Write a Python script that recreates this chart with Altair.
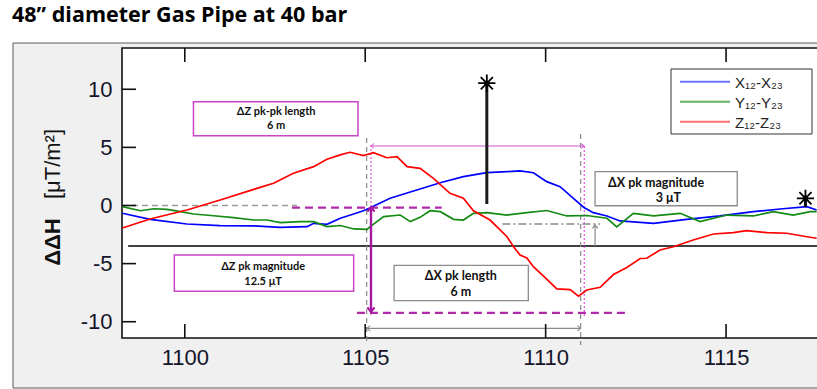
import altair as alt
import pandas as pd

TITLE = "48\u201d diameter Gas Pipe at 40 bar"
SERIES = ["X\u2081\u2082-X\u2082\u2083", "Y\u2081\u2082-Y\u2082\u2083", "Z\u2081\u2082-Z\u2082\u2083"]
COLORS = ["#0000ff", "#138a13", "#ff0000"]
LEGEND_COLORS = ["#7070ff", "#62b062", "#ff7070"]
X_TICKS = [1100, 1105, 1110, 1115]
Y_TICKS = [-10, -5, 0, 5, 10]

blue_x = [1098.27, 1099.04, 1100.06, 1100.98, 1101.91, 1102.65, 1103.39, 1103.57, 1103.94, 1104.31,
          1104.68, 1104.95, 1105.14, 1105.69, 1106.34, 1107.08, 1107.72, 1108.37, 1108.93, 1109.29,
          1109.66, 1110.03, 1110.40, 1110.77, 1111.05, 1111.32, 1111.70, 1112.06, 1112.99, 1113.91,
          1114.83, 1115.76, 1116.50, 1117.24, 1117.51]
blue_y = [-0.67, -1.20, -1.59, -1.74, -1.76, -1.88, -1.82, -1.53, -1.62, -1.10,
          -0.73, -0.45, -0.20, 0.62, 1.25, 1.96, 2.48, 2.82, 2.91, 2.97,
          2.82, 2.05, 1.62, 0.62, -0.15, -0.62, -0.90, -1.33, -1.53, -1.19,
          -0.90, -0.53, -0.30, -0.10, -0.39]

green_x = [1098.27, 1098.77, 1099.14, 1099.51, 1099.88, 1100.24, 1100.80, 1101.35, 1101.91, 1102.28,
           1102.65, 1103.20, 1103.57, 1103.94, 1104.31, 1104.68, 1105.05, 1105.14, 1105.51, 1105.97,
           1106.25, 1106.52, 1106.80, 1107.08, 1107.45, 1107.72, 1108.00, 1108.37, 1108.93, 1109.48,
           1110.03, 1110.59, 1111.14, 1111.70, 1111.97, 1112.43, 1112.99, 1113.73, 1114.28, 1115.02,
           1115.76, 1116.31, 1116.86, 1117.33, 1117.51]
green_y = [-0.10, -0.45, -0.28, -0.33, -0.53, -0.73, -0.88, -1.05, -1.25, -1.25,
           -1.48, -1.39, -1.39, -1.82, -1.72, -2.02, -2.05, -1.82, -0.96, -0.82,
           -1.39, -1.02, -0.45, -0.53, -1.19, -1.25, -0.67, -0.62, -0.82, -0.62,
           -0.43, -0.90, -0.86, -1.10, -1.85, -0.67, -0.90, -0.67, -1.39, -0.82,
           -0.90, -0.53, -0.82, -0.53, -0.53]

red_x = [1098.27, 1099.04, 1099.69, 1100.06, 1100.98, 1101.91, 1102.46, 1103.01, 1103.57, 1103.94,
         1104.31, 1104.58, 1104.95, 1105.23, 1105.60, 1105.88, 1106.16, 1106.52, 1106.89, 1107.35,
         1107.72, 1108.00, 1108.46, 1108.93, 1109.11, 1109.29, 1109.48, 1109.66, 1110.03, 1110.31,
         1110.68, 1110.91, 1111.14, 1111.51, 1111.88, 1112.25, 1112.62, 1112.80, 1113.17, 1113.54,
         1114.09, 1114.65, 1115.20, 1115.57, 1116.13, 1116.68, 1117.24, 1117.51]
red_y = [-1.94, -1.16, -0.67, -0.39, 0.47, 1.39, 1.91, 2.77, 3.34, 3.98,
         4.35, 4.58, 4.30, 4.54, 4.11, 4.20, 3.34, 3.20, 2.34, 1.05,
         0.62, -0.45, -1.25, -2.69, -3.55, -4.26, -4.52, -5.27, -6.33, -7.17,
         -7.23, -7.81, -7.27, -7.04, -5.94, -5.34, -4.56, -4.54, -3.83, -3.55,
         -2.97, -2.45, -2.34, -2.17, -2.34, -2.39, -2.69, -2.82]

W, H = 695, 290
XD = [1098.26, 1117.52]
YD = [-11.40, 13.55]
xs = alt.Scale(domain=XD, nice=False, zero=False)
ys = alt.Scale(domain=YD, nice=False, zero=False)

XAX = alt.Axis(title=None, values=X_TICKS, ticks=False, tickSize=0, domain=False, grid=False,
               format="d", labelFontSize=22, labelFont="Liberation Sans", labelColor="#15152a",
               labelPadding=9, labelFlush=False, labelOverlap=False, zindex=1)
YAX = alt.Axis(title=None, values=Y_TICKS, ticks=False, tickSize=0, domain=False, grid=False,
               labelFontSize=22, labelFont="Liberation Sans", labelColor="#15152a",
               labelPadding=10, labelOverlap=False, zindex=1,
               labelExpr="datum.value < 0 ? '-' + abs(datum.value) : '' + datum.value")


def X(f="x"):
    return alt.X(f"{f}:Q", scale=xs, axis=XAX)


def Y(f="y"):
    return alt.Y(f"{f}:Q", scale=ys, axis=YAX)


ONE = pd.DataFrame({"a": [0]})


def seg(rows, color, width, dash=None, clip=True):
    df = pd.DataFrame(rows, columns=["x", "y", "x2", "y2"])
    kw = dict(color=color, strokeWidth=width, clip=clip)
    if dash:
        kw["strokeDash"] = dash
    return alt.Chart(df).mark_rule(**kw).encode(x=X(), y=Y(), x2="x2:Q", y2="y2:Q")


UP = "M-0.9,1.1L0,0L0.9,1.1"
DOWN = "M-0.9,-1.1L0,0L0.9,-1.1"
LEFT = "M1.1,-0.9L0,0L1.1,0.9"
RIGHT = "M-1.1,-0.9L0,0L-1.1,0.9"
STAR = "M-1,0L1,0M0,-1L0,1M-0.7,-0.7L0.7,0.7M-0.7,0.7L0.7,-0.7"


def head(x, y, path, color, size, width):
    df = pd.DataFrame({"x": [x], "y": [y]})
    return alt.Chart(df).mark_point(shape=path, filled=False, color=color, size=size,
                                    strokeWidth=width, opacity=1, clip=False).encode(x=X(), y=Y())


def box(x1, x2, y1, y2, stroke, width):
    df = pd.DataFrame({"x": [x1], "x2": [x2], "y": [y1], "y2": [y2]})
    return alt.Chart(df).mark_rect(fill="white", stroke=stroke, strokeWidth=width).encode(
        x=X(), x2="x2:Q", y=Y(), y2="y2:Q")


def label(x, y, text, size):
    df = pd.DataFrame({"x": [x], "y": [y], "t": [text]})
    return alt.Chart(df).mark_text(font="Lato", fontWeight="bold", fontSize=size, color="#111",
                                   align="center", baseline="middle").encode(
        x=X(), y=Y(), text="t:N")


layers = []

# figure background (gray) and white axes area
layers.append(alt.Chart(ONE).mark_rect(fill="#f0f0f0", stroke="#5a5a5a", strokeWidth=1).encode(
    x=alt.value(-109), x2=alt.value(720), y=alt.value(-5), y2=alt.value(340)))
layers.append(alt.Chart(ONE).mark_rect(fill="white", stroke="#111", strokeWidth=1.6).encode(
    x=alt.value(0), x2=alt.value(720), y=alt.value(0), y2=alt.value(H)))

# reference lines
layers.append(seg([(1098.43, -3.49, 1117.52, -3.49)], "#000", 1.6))
layers.append(seg([(1098.26, 0.0, 1103.11, 0.0)], "#9a9a9a", 1.6, dash=[6, 4]))
layers.append(seg([(1105.04, 5.81, 1105.04, -12.0), (1110.97, 6.15, 1110.97, -12.0)],
                  "#8a8a8a", 1.2, dash=[5, 4], clip=False))
layers.append(seg([(1105.16, 5.2, 1105.16, -9.4), (1111.07, 5.12, 1111.07, -9.5)],
                  "#e040e0", 1.1, dash=[2, 2]))

# annotation boxes
layers.append(box(1100.24, 1104.80, 8.93, 6.01, "#c845c8", 1.5))
layers.append(box(1099.71, 1104.68, -4.26, -7.38, "#c845c8", 1.5))
layers.append(box(1105.80, 1109.52, -5.15, -8.19, "#8c8c8c", 1.3))
layers.append(box(1111.37, 1115.31, 2.91, -0.02, "#8c8c8c", 1.3))
layers.append(label(1102.53, 8.02, "\u0394Z pk-pk length", 11))
layers.append(label(1102.53, 6.84, "6 m", 11))
layers.append(label(1102.17, -5.26, "\u0394Z pk magnitude", 11))
layers.append(label(1102.17, -6.61, "12.5 \u03bcT", 11))
layers.append(label(1107.65, -6.05, "\u0394X pk length", 12.5))
layers.append(label(1107.65, -7.46, "6 m", 12.5))
layers.append(label(1113.06, 1.92, "\u0394X pk magnitude", 12.5))
layers.append(label(1113.40, 0.68, "3 \u03bcT", 12.5))

# data lines
rows = []
for name, xv, yv in zip(SERIES, [blue_x, green_x, red_x], [blue_y, green_y, red_y]):
    for i, (a, b) in enumerate(zip(xv, yv)):
        rows.append({"series": name, "x": a, "y": b, "i": i})
lines_df = pd.DataFrame(rows)
layers.append(alt.Chart(lines_df).mark_line(strokeWidth=1.7, clip=True).encode(
    x=X(), y=Y(),
    color=alt.Color("series:N", scale=alt.Scale(domain=SERIES, range=COLORS), legend=None),
    order="i:Q"))

# magenta measurement marks
layers.append(seg([(1102.97, -0.19, 1107.12, -0.19), (1104.77, -9.23, 1112.26, -9.23)],
                  "#b02aa8", 2.2, dash=[8, 5]))
layers.append(seg([(1105.16, -0.15, 1105.16, -9.14)], "#a3189f", 2.4))
layers.append(head(1105.16, -0.15, UP, "#a3189f", 64, 2.2))
layers.append(head(1105.16, -9.14, DOWN, "#a3189f", 64, 2.2))
layers.append(seg([(1105.16, 5.12, 1111.07, 5.12)], "#d050d0", 1.0))
layers.append(head(1105.16, 5.12, LEFT, "#d050d0", 30, 1.0))
layers.append(head(1111.07, 5.12, RIGHT, "#d050d0", 30, 1.0))

# gray measurement marks
layers.append(seg([(1105.05, -10.57, 1110.97, -10.57)], "#8a8a8a", 1.1))
layers.append(head(1105.05, -10.57, LEFT, "#8a8a8a", 36, 1.1))
layers.append(head(1110.97, -10.57, RIGHT, "#8a8a8a", 36, 1.1))
layers.append(seg([(1108.80, -1.59, 1111.51, -1.59)], "#8a8a8a", 1.3, dash=[8, 3, 2, 3]))
layers.append(seg([(1111.37, -3.49, 1111.37, -1.68)], "#8a8a8a", 1.2))
layers.append(head(1111.37, -1.68, UP, "#8a8a8a", 36, 1.2))

# peak markers
layers.append(seg([(1108.37, 10.52, 1108.37, 0.13), (1117.2, 0.62, 1117.2, -0.10)], "#1a1a1a", 3))
stars = pd.DataFrame({"x": [1108.37, 1117.2], "y": [10.52, 0.62]})
layers.append(alt.Chart(stars).mark_point(shape=STAR, filled=False, color="#000", size=300,
                                          strokeWidth=1.8, opacity=1).encode(x=X(), y=Y()))
layers.append(alt.Chart(stars).mark_point(shape="circle", filled=True, color="#000", size=30,
                                          opacity=1).encode(x=X(), y=Y()))

# inward tick marks
bt = pd.DataFrame({"v": X_TICKS})
lt = pd.DataFrame({"v": Y_TICKS})
layers.append(alt.Chart(bt).mark_rule(color="#111", strokeWidth=1.6).encode(
    x=X("v"), y=alt.value(H), y2=alt.value(H - 14)))
layers.append(alt.Chart(bt).mark_rule(color="#111", strokeWidth=1.6).encode(
    x=X("v"), y=alt.value(0), y2=alt.value(14)))
layers.append(alt.Chart(lt).mark_rule(color="#111", strokeWidth=1.6).encode(
    y=Y("v"), x=alt.value(0), x2=alt.value(14)))

# legend
layers.append(alt.Chart(ONE).mark_rect(fill="white", stroke="#333", strokeWidth=1).encode(
    x=alt.value(549), x2=alt.value(690), y=alt.value(21), y2=alt.value(86)))
for i, (name, col) in enumerate(zip(SERIES, LEGEND_COLORS)):
    py = 33.7 + 20 * i
    layers.append(alt.Chart(ONE).mark_rule(color=col, strokeWidth=2).encode(
        x=alt.value(558), x2=alt.value(608), y=alt.value(py)))
    layers.append(alt.Chart(pd.DataFrame({"t": [name]})).mark_text(
        font="Liberation Sans", fontSize=15, color="#222", align="left", baseline="middle").encode(
        x=alt.value(613), y=alt.value(py + 1), text="t:N"))

# y-axis title and chart title
layers.append(alt.Chart(pd.DataFrame({"t": ["\u0394\u0394H"]})).mark_text(
    font="Liberation Sans", fontWeight="bold", fontSize=22, color="#111", angle=270,
    align="center", baseline="alphabetic").encode(x=alt.value(-62), y=alt.value(194), text="t:N"))
layers.append(alt.Chart(pd.DataFrame({"t": ["[\u03bcT/m\u00b2]"]})).mark_text(
    font="Liberation Sans", fontSize=22, color="#111", angle=270,
    align="center", baseline="alphabetic").encode(x=alt.value(-62), y=alt.value(116), text="t:N"))
layers.append(alt.Chart(pd.DataFrame({"t": [TITLE]})).mark_text(
    font="Open Sans", fontWeight="bold", fontSize=21.5, color="#000",
    align="left", baseline="alphabetic").encode(x=alt.value(-110), y=alt.value(-26), text="t:N"))

chart = alt.layer(*layers).properties(
    width=W, height=H,
    autosize=alt.AutoSizeParams(type="none"),
    padding={"left": 122, "top": 48, "right": 0, "bottom": 51},
    background="white",
).configure_view(stroke=None)

chart.save("out.html", embed_options={"renderer": "svg", "actions": False})
